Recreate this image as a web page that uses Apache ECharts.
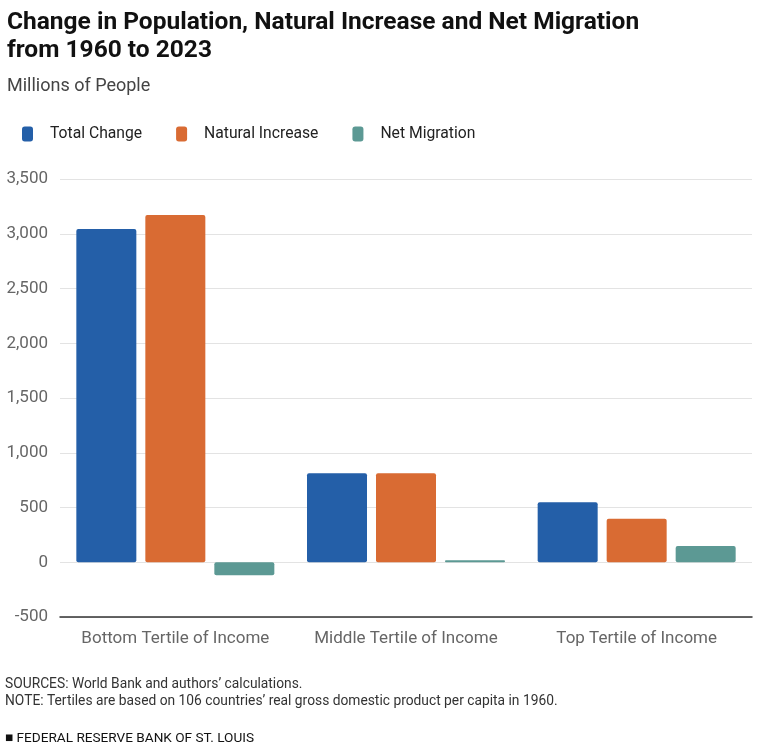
<!DOCTYPE html>
<html>
<head>
<meta charset="utf-8">
<style>
	html, body { margin: 0; padding: 0; background: #fff; }
	#chart { width: 771px; height: 747px; }
</style>
</head>
<body>
<div id="chart"></div>
<script src="https://cdn.jsdelivr.net/npm/echarts@6/dist/echarts.min.js"></script>
<script>
	// data (millions of people)
	var categories = ['Bottom Tertile of Income', 'Middle Tertile of Income', 'Top Tertile of Income'];
	var totalChange = [3044, 813, 548];
	var naturalIncrease = [3172, 813, 398];
	var netMigration = [-119, 18, 149];
	var seriesNames = ['Total Change', 'Natural Increase', 'Net Migration'];
	var colors = ['#245fa8', '#d96b33', '#5c9994'];

	var font = 'Roboto, sans-serif';
	var chart = echarts.init(document.getElementById('chart'));

	function bar(name, data) {
		return {
			name: name,
			type: 'bar',
			data: data,
			barWidth: 60,
			barGap: '15%',
			itemStyle: { borderRadius: 2 }
		};
	}

	var option = {
		color: colors,
		animation: false,
		textStyle: { fontFamily: font },
		title: [
			{
				text: 'Change in Population, Natural Increase and Net Migration\nfrom 1960 to 2023',
				left: 2, top: 4,
				textStyle: { fontFamily: font, fontSize: 24.5, fontWeight: 'bold', color: '#111', lineHeight: 28 }
			},
			{
				text: 'Millions of People',
				left: 2, top: 72,
				textStyle: { fontFamily: font, fontSize: 18, fontWeight: 'normal', color: '#444' }
			},
			{
				text: 'SOURCES: World Bank and authors\u2019 calculations.\nNOTE: Tertiles are based on 106 countries\u2019 real gross domestic product per capita in 1960.',
				left: 0, top: 671,
				textStyle: { fontFamily: font, fontSize: 13.8, fontWeight: 'normal', color: '#333', lineHeight: 17 }
			},
			{
				text: '\u25A0 FEDERAL RESERVE BANK OF ST. LOUIS',
				left: 0, top: 727,
				textStyle: { fontFamily: font, fontSize: 13.6, fontWeight: 'normal', color: '#111' }
			}
		],
		legend: {
			data: seriesNames,
			left: 17, top: 121,
			itemWidth: 11, itemHeight: 15,
			itemGap: 34,
			icon: 'roundRect',
			textStyle: { fontFamily: font, fontSize: 15.7, color: '#222', padding: [0, 0, 0, 12] }
		},
		grid: { left: 60, right: 19, top: 179, bottom: 130 },
		xAxis: {
			type: 'category',
			data: categories,
			axisLine: { onZero: false, lineStyle: { color: '#333', width: 1.5 } },
			axisTick: { show: false },
			axisLabel: { fontFamily: font, fontSize: 17, color: '#666', margin: 13, interval: 0 }
		},
		yAxis: {
			type: 'value',
			min: -500, max: 3500, interval: 500,
			axisLine: { show: false },
			axisTick: { show: false },
			splitLine: { lineStyle: { color: '#e3e3e3' } },
			axisLabel: {
				fontFamily: font, fontSize: 17, color: '#666', margin: 12,
				formatter: function (v) { return v.toLocaleString('en-US'); }
			}
		},
		series: [
			bar(seriesNames[0], totalChange),
			bar(seriesNames[1], naturalIncrease),
			bar(seriesNames[2], netMigration)
		]
	};
	chart.setOption(option);
	window.addEventListener('resize', function () {
		chart.resize();
	});
</script>
</body>
</html>
